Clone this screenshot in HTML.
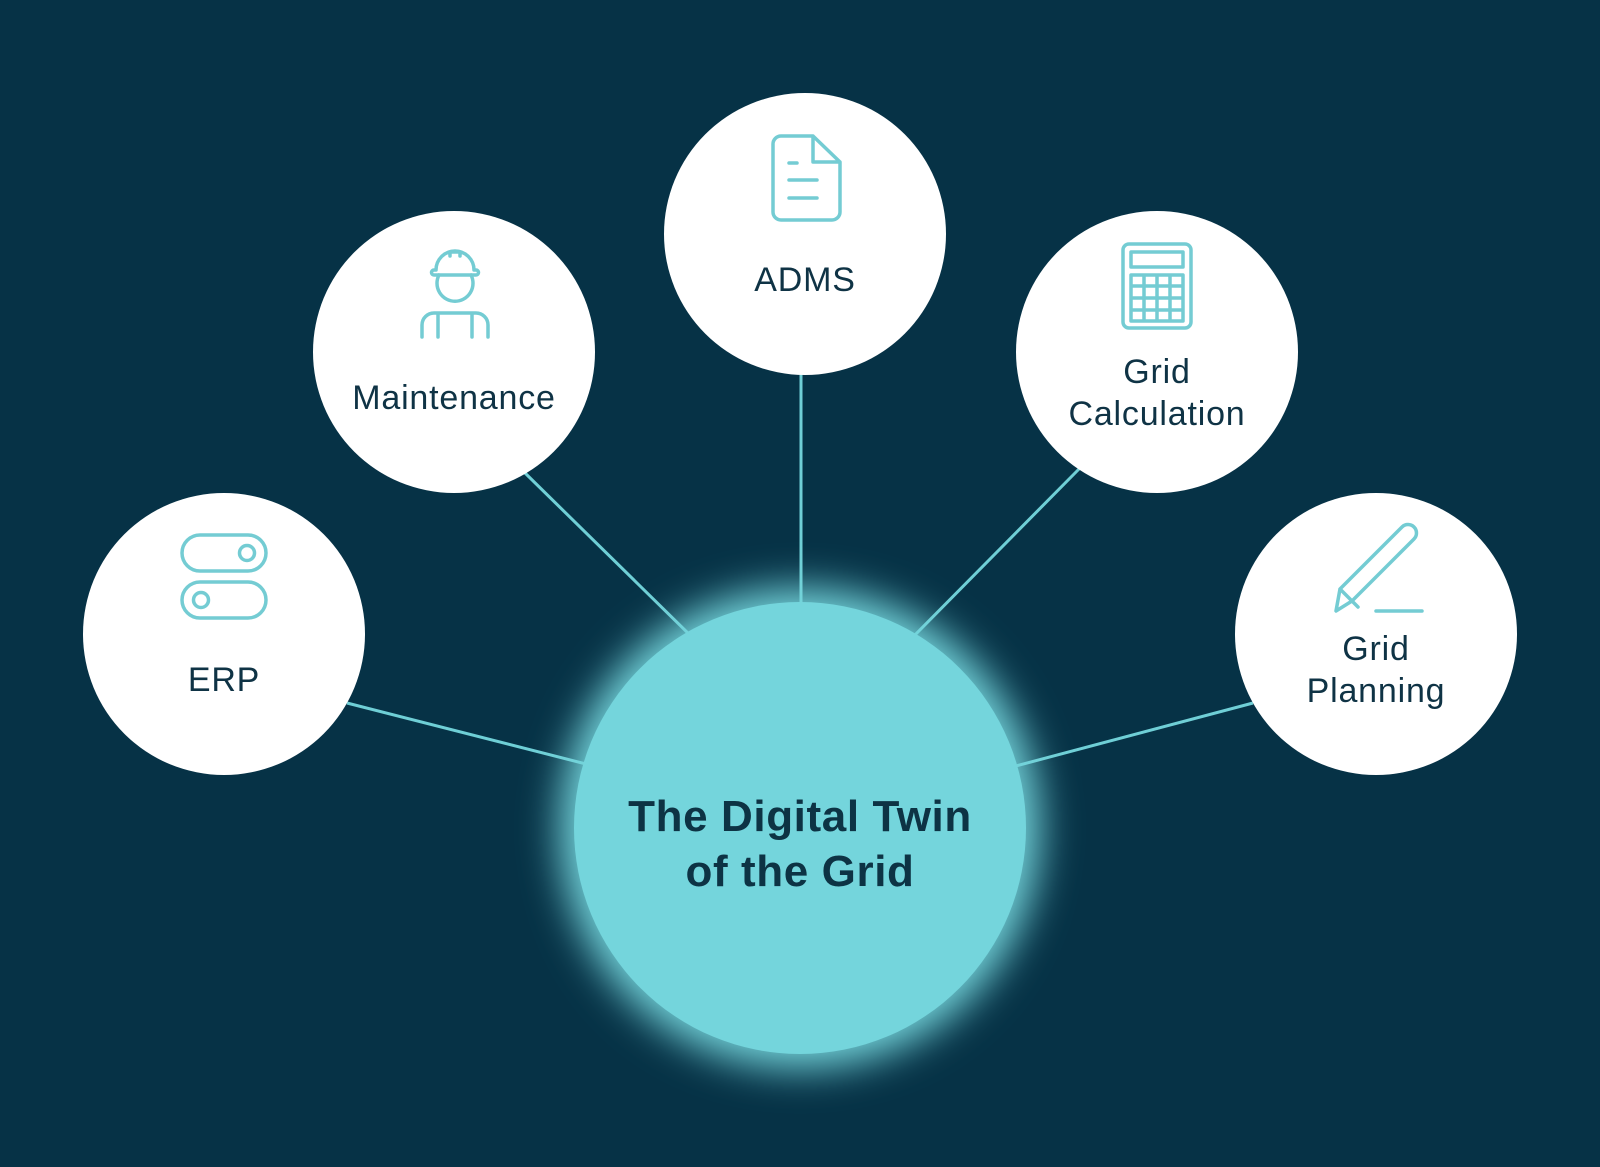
<!DOCTYPE html>
<html><head><meta charset="utf-8"><style>
html,body{margin:0;padding:0;background:#063246;}
svg{display:block}
text{font-family:"Liberation Sans",sans-serif;}
</style></head><body>
<svg width="1600" height="1167" viewBox="0 0 1600 1167" xmlns="http://www.w3.org/2000/svg">
<defs>
<filter id="glow" x="-40%" y="-40%" width="180%" height="180%"><feGaussianBlur stdDeviation="20"/></filter>
</defs>
<rect width="1600" height="1167" fill="#063246"/>
<g stroke="#6fcfd6" stroke-width="3">
<line x1="347" y1="703" x2="590" y2="765"/>
<line x1="524" y1="472" x2="695" y2="640"/>
<line x1="801" y1="374" x2="801" y2="612"/>
<line x1="1079" y1="469" x2="910" y2="640"/>
<line x1="1253" y1="703" x2="1012" y2="767"/>
</g>
<circle cx="800" cy="828" r="240" fill="#74d5dc" filter="url(#glow)"/>
<circle cx="800" cy="828" r="226" fill="#74d5dc"/>
<g font-size="44" font-weight="bold" fill="#0d3344" text-anchor="middle" letter-spacing="0.6">
<text x="800" y="831">The Digital Twin</text>
<text x="800" y="886">of the Grid</text>
</g>
<g fill="#fff">
<circle cx="224" cy="634" r="141"/>
<circle cx="454" cy="352" r="141"/>
<circle cx="805" cy="234" r="141"/>
<circle cx="1157" cy="352" r="141"/>
<circle cx="1376" cy="634" r="141"/>
</g>
<g font-size="34" fill="#0f3345" text-anchor="middle" letter-spacing="0.8">
<text x="224" y="691">ERP</text>
<text x="454" y="409">Maintenance</text>
<text x="805" y="291">ADMS</text>
<text x="1157" y="383">Grid</text>
<text x="1157" y="425">Calculation</text>
<text x="1376" y="660">Grid</text>
<text x="1376" y="702">Planning</text>
</g>
<g fill="none" stroke="#74ccd3" stroke-width="3.5" stroke-linecap="round" stroke-linejoin="round">
<rect x="182" y="535" width="84" height="36" rx="18"/>
<circle cx="247" cy="553" r="7.5"/>
<rect x="182" y="582" width="84" height="36" rx="18"/>
<circle cx="201" cy="600" r="7.5"/>
<!-- worker -->
<path d="M439 275 a18 18 0 1 0 32 0"/>
<path d="M434 275 h42 a2.5 2.5 0 0 0 0 -5 h-2 a19 19 0 0 0 -38 0 h-2 a2.5 2.5 0 0 0 0 5 M450 256 v-4 h10 v4"/>
<path d="M422 337 v-12 a12 12 0 0 1 12 -12 h42 a12 12 0 0 1 12 12 v12 M438 313 v24 M472 313 v24"/>
<!-- doc -->
<path d="M813 136 h-32 a8 8 0 0 0 -8 8 v68 a8 8 0 0 0 8 8 h51 a8 8 0 0 0 8 -8 v-50 z M813 136 v26 h27"/>
<path d="M789 163 h8 M789 180 h28 M789 198 h28"/>
<!-- calculator -->
<rect x="1123" y="244" width="68" height="84" rx="6"/>
<rect x="1131" y="252" width="52" height="15"/>
<path d="M1131 275 h52 v46 h-52 z M1131 286 h52 M1131 298 h52 M1131 310 h52 M1144 275 v46 M1157 275 v46 M1170 275 v46"/>
<!-- pencil -->
<path d="M1336 611 l4 -22 l62 -62 a8 8 0 0 1 12 12 l-62 62 z M1340 589 l18 18"/>
<path d="M1376 611 h46"/>
</g>
</svg>
</body></html>
